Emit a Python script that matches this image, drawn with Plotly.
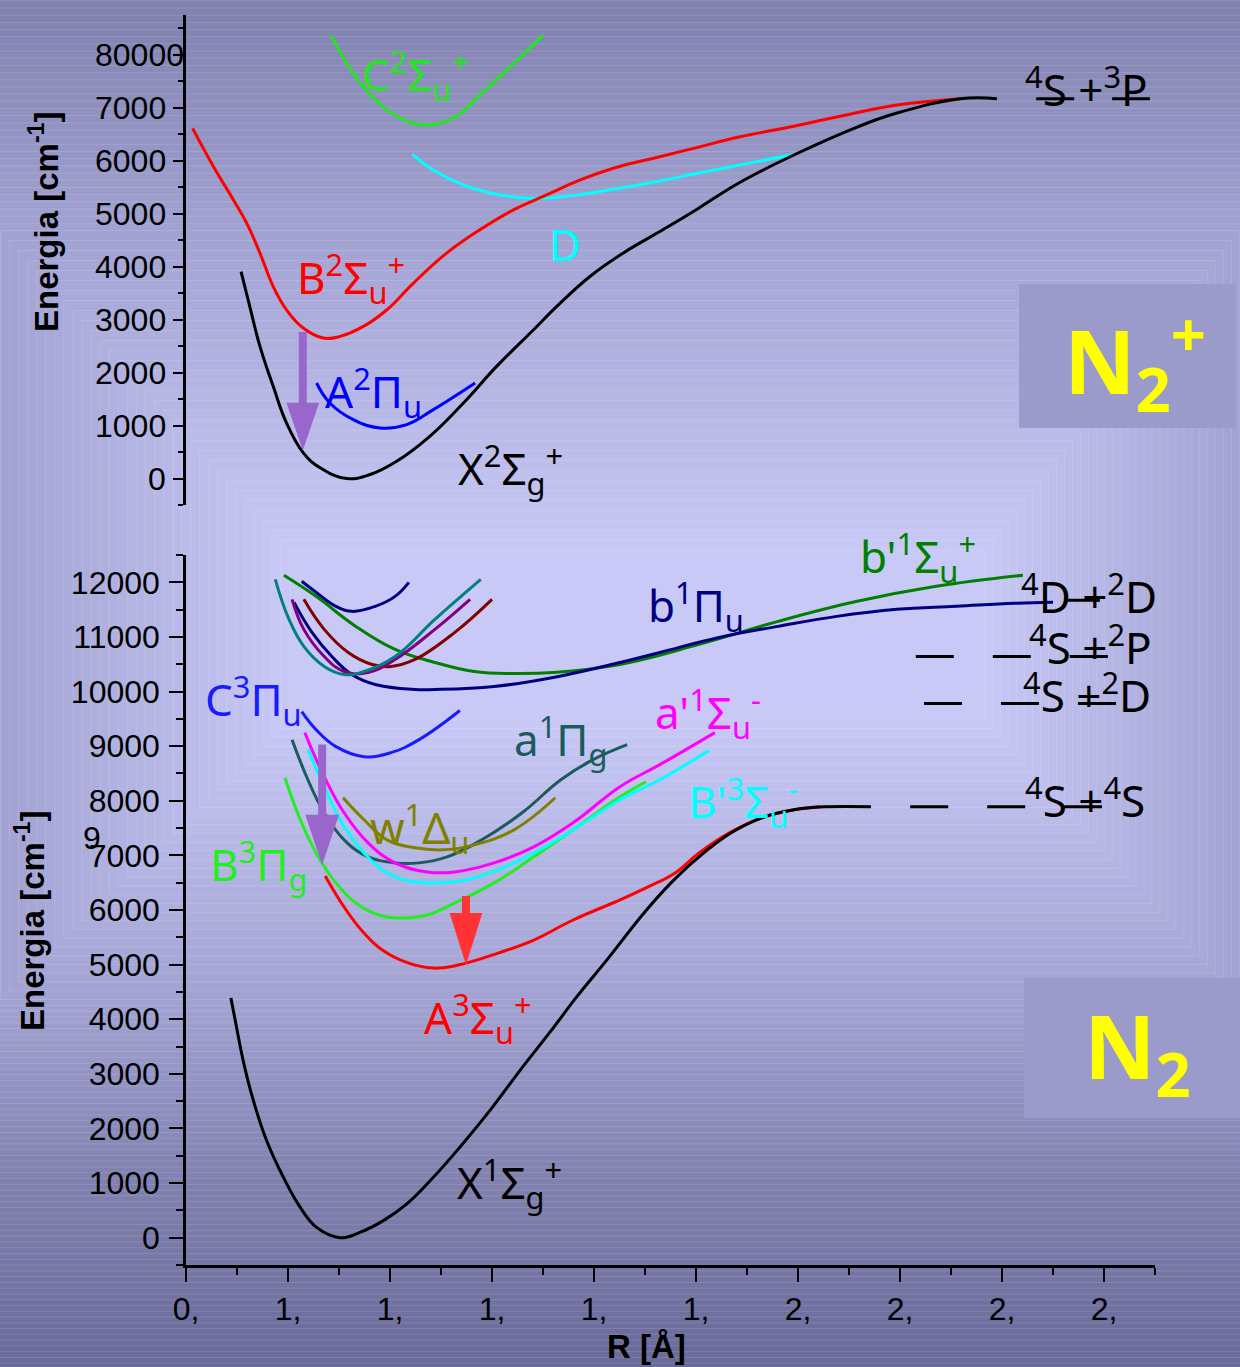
import plotly.graph_objects as go
import numpy as np

W, H = 1240, 1367

# ---------------- axes ticks ----------------
R_TICKS = [0.8, 1.0, 1.2, 1.4, 1.6, 1.8, 2.0, 2.2, 2.4, 2.6]
R_TICK_TEXT = ["0,", "1,", "1,", "1,", "1,", "1,", "2,", "2,", "2,", "2,"]
E_TICKS_N2 = list(range(0, 12001, 1000))
E_TICK_TEXT_N2 = [str(v) for v in E_TICKS_N2]
E_TICKS_N2P = list(range(0, 80001, 10000))
E_TICK_TEXT_N2P = ["0", "1000", "2000", "3000", "4000", "5000", "6000", "7000", "80000"]

# ---------------- N2+ (upper panel) ----------------
N2P_X_R = [0.908, 0.925, 0.945, 0.971, 0.997, 1.030, 1.063, 1.115, 1.161, 1.213, 1.278, 1.344,
           1.409, 1.475, 1.527, 1.592, 1.657, 1.729, 1.806, 1.884, 1.996, 2.116, 2.194, 2.318, 2.390]
N2P_X_E = [39076, 32479, 24939, 17399, 10499, 4844, 2017, 0, 754, 3261, 7974, 14269,
           21169, 27464, 32479, 38134, 42544, 46616, 51084, 55796, 61263, 66352, 68991, 71700, 71700]

N2P_B_R = [0.813, 0.854, 0.893, 0.919, 0.945, 0.971, 0.997, 1.030, 1.069, 1.102, 1.148, 1.194,
           1.246, 1.311, 1.376, 1.442, 1.507, 1.573, 1.638, 1.729, 1.806, 1.884, 1.984, 2.076,
           2.194, 2.318]
N2P_B_E = [66107, 58869, 52592, 48199, 42544, 36249, 31857, 28407, 26522, 26824, 28709, 31857,
           36889, 42544, 46937, 50707, 53534, 56362, 58567, 60754, 62582, 64467, 66352, 68237,
           70499, 71700]

N2P_D_R = [1.244, 1.285, 1.344, 1.409, 1.475, 1.540, 1.638, 1.729, 1.806, 1.996]
N2P_D_E = [61206, 58247, 55419, 53666, 52912, 53214, 54608, 56173, 57681, 61263]

N2P_C_R = [1.084, 1.133, 1.178, 1.210, 1.265, 1.327, 1.380, 1.443, 1.500]
N2P_C_E = [83694, 75777, 70876, 68614, 66729, 68237, 72761, 78416, 83694]

N2P_A_R = [1.056, 1.082, 1.128, 1.180, 1.233, 1.285, 1.367]
N2P_A_E = [18039, 14269, 11122, 9557, 10179, 13007, 18039]

N2P_LIMIT_R = [2.467, 2.690]
N2P_LIMIT_E = [71700, 71700]

# ---------------- N2 (lower panel) ----------------
N2_X_R = [0.888, 0.899, 0.912, 0.932, 0.958, 0.991, 1.024, 1.056, 1.102, 1.141, 1.187, 1.233,
          1.285, 1.337, 1.396, 1.455, 1.514, 1.566, 1.625, 1.698, 1.751, 1.806, 1.869, 1.929,
          1.992, 2.055, 2.143]
N2_X_E = [4391, 3859, 3248, 2514, 1780, 1106, 556, 189, 0, 97, 312, 618,
          1106, 1657, 2330, 3064, 3767, 4409, 5083, 5945, 6496, 6973, 7413, 7688,
          7835, 7890, 7890]

N2_A_R = [1.073, 1.110, 1.149, 1.194, 1.249, 1.296, 1.349, 1.412, 1.482, 1.559, 1.651, 1.706,
          1.759, 1.806, 1.869, 1.929, 1.992, 2.043]
N2_A_E = [6624, 6055, 5578, 5211, 4991, 4936, 5028, 5211, 5450, 5817, 6184, 6422,
          6679, 7046, 7431, 7688, 7835, 7890]

N2_B_R = [0.994, 1.024, 1.055, 1.094, 1.133, 1.178, 1.218, 1.273, 1.327, 1.404, 1.482, 1.559, 1.651, 1.702]
N2_B_E = [8422, 7652, 7046, 6496, 6129, 5908, 5853, 5908, 6129, 6496, 6973, 7468, 8074, 8349]

N2_Bp_R = [1.039, 1.071, 1.110, 1.149, 1.194, 1.249, 1.288, 1.349, 1.412, 1.482, 1.559, 1.651, 1.729, 1.825]
N2_Bp_E = [8936, 8257, 7523, 7046, 6679, 6514, 6496, 6551, 6734, 7046, 7468, 8019, 8385, 8918]

N2_ap_R = [1.033, 1.071, 1.110, 1.157, 1.210, 1.273, 1.327, 1.404, 1.482, 1.559, 1.651, 1.729, 1.837]
N2_ap_E = [9248, 8441, 7780, 7230, 6863, 6697, 6697, 6863, 7156, 7596, 8257, 8661, 9248]

N2_a_R = [1.008, 1.039, 1.071, 1.110, 1.157, 1.210, 1.257, 1.312, 1.380, 1.459, 1.535, 1.598, 1.665]
N2_a_E = [9119, 8385, 7780, 7285, 6973, 6863, 6863, 6973, 7285, 7780, 8385, 8752, 9028]

N2_w_R = [1.108, 1.149, 1.194, 1.249, 1.304, 1.365, 1.443, 1.524]
N2_w_E = [8055, 7652, 7285, 7138, 7101, 7193, 7468, 8055]

N2_C_R = [1.027, 1.055, 1.094, 1.149, 1.202, 1.257, 1.337]
N2_C_E = [9633, 9303, 8991, 8808, 8881, 9119, 9652]

N2_navy_small_R = [1.027, 1.055, 1.094, 1.125, 1.171, 1.210, 1.237]
N2_navy_small_E = [12019, 11817, 11560, 11468, 11560, 11743, 12000]

N2_bp_R = [0.992, 1.055, 1.133, 1.210, 1.288, 1.365, 1.443, 1.520, 1.651, 1.806, 1.961, 2.116, 2.271, 2.441]
N2_bp_E = [12129, 11743, 11193, 10771, 10532, 10367, 10330, 10349, 10496, 10863, 11285, 11652, 11927, 12129]

N2_teal_R = [0.975, 1.002, 1.031, 1.071, 1.110, 1.149, 1.210, 1.288, 1.378]
N2_teal_E = [12055, 11321, 10826, 10459, 10312, 10367, 10642, 11321, 12055]

N2_purple_R = [1.008, 1.031, 1.071, 1.110, 1.157, 1.210, 1.288, 1.357]
N2_purple_E = [11688, 11138, 10642, 10367, 10349, 10587, 11138, 11688]

N2_maroon_R = [1.031, 1.071, 1.118, 1.165, 1.202, 1.249, 1.327, 1.400]
N2_maroon_E = [11688, 11138, 10716, 10496, 10459, 10587, 11083, 11688]

N2_b_R = [1.012, 1.047, 1.086, 1.125, 1.171, 1.249, 1.288, 1.404, 1.520, 1.651, 1.729, 1.845,
          1.961, 2.076, 2.194, 2.310, 2.425, 2.500]
N2_b_E = [11633, 11083, 10642, 10312, 10129, 10037, 10037, 10092, 10257, 10532, 10716, 10991,
          11193, 11376, 11505, 11560, 11615, 11633]

LIMIT_4S4S_R = [2.220, 2.596]; LIMIT_4S4S_E = [7890, 7890]
LIMIT_4S2D_R = [2.247, 2.624]; LIMIT_4S2D_E = [9780, 9780]
LIMIT_4S2P_R = [2.231, 2.608]; LIMIT_4S2P_E = [10642, 10642]
LIMIT_4D2D_R = [2.527, 2.592]; LIMIT_4D2D_E = [11670, 11670]

fig = go.Figure()

def curve(r, e, color, top=False, dash=None, width=3):
    fig.add_trace(go.Scatter(
        x=r, y=e, mode="lines",
        line=dict(color=color, width=width, shape="spline", smoothing=1.2, dash=dash),
        xaxis="x2" if top else "x", yaxis="y2" if top else "y",
        showlegend=False, hoverinfo="skip"))

# upper panel
curve(N2P_C_R, N2P_C_E, "#22e622", True)
curve(N2P_D_R, N2P_D_E, "#00ffff", True)
curve(N2P_B_R, N2P_B_E, "#ff0000", True)
curve(N2P_A_R, N2P_A_E, "#0000ff", True)
curve(N2P_X_R, N2P_X_E, "#000000", True)
curve(N2P_LIMIT_R, N2P_LIMIT_E, "#000000", True, dash="38px,38px")

# lower panel
curve(N2_bp_R, N2_bp_E, "#008000")
curve(N2_b_R, N2_b_E, "#000080")
curve(N2_navy_small_R, N2_navy_small_E, "#000080")
curve(N2_maroon_R, N2_maroon_E, "#800000")
curve(N2_purple_R, N2_purple_E, "#800080")
curve(N2_teal_R, N2_teal_E, "#008080")
curve(N2_C_R, N2_C_E, "#1a1aff")
curve(N2_a_R, N2_a_E, "#1a5c5c")
curve(N2_w_R, N2_w_E, "#808000")
curve(N2_B_R, N2_B_E, "#22ee22")
curve(N2_Bp_R, N2_Bp_E, "#00ffff")
curve(N2_ap_R, N2_ap_E, "#ff00ff")
curve(N2_A_R, N2_A_E, "#ff0000")
curve(N2_X_R, N2_X_E, "#000000")
for lr, le in [(LIMIT_4S4S_R, LIMIT_4S4S_E), (LIMIT_4S2D_R, LIMIT_4S2D_E),
               (LIMIT_4S2P_R, LIMIT_4S2P_E), (LIMIT_4D2D_R, LIMIT_4D2D_E)]:
    curve(lr, le, "#000000", dash="38px,39px")

# ---------------- background gradient (decoration) ----------------
def col_at(t):
    stops = [(0.0, (201, 201, 247)), (1.0, (163, 163, 211)), (2.0, (129, 129, 176)),
             (3.0, (106, 106, 154)), (3.4, (98, 98, 146))]
    for (t0, c0), (t1, c1) in zip(stops[:-1], stops[1:]):
        if t <= t1:
            f = (t - t0) / (t1 - t0)
            return "rgb(%d,%d,%d)" % tuple(round(a + (b - a) * f) for a, b in zip(c0, c1))
    return "rgb(%d,%d,%d)" % stops[-1][1]

shapes = []
for t in np.linspace(3.4, 0, 110):
    left = 290 - 290 * t
    right = 985 + 255 * t
    top = 550 - 320 * t if t <= 1 else 230 - 230 * (t - 1)
    bottom = 720 + 280 * t if t <= 1 else 1000 + 185 * (t - 1)
    shapes.append(dict(type="rect", xref="paper", yref="paper", layer="below",
                       x0=left / W, x1=right / W, y0=1 - bottom / H, y1=1 - top / H,
                       fillcolor=col_at(t), line=dict(color="rgba(255,255,255,0.13)", width=1)))

# molecule boxes
shapes.append(dict(type="rect", xref="paper", yref="paper", layer="below",
                   x0=1019 / W, x1=1236 / W, y0=1 - 428 / H, y1=1 - 284 / H,
                   fillcolor="#9a9acb", line=dict(width=0)))
shapes.append(dict(type="rect", xref="paper", yref="paper", layer="below",
                   x0=1024 / W, x1=1240 / W, y0=1 - 1118 / H, y1=1 - 978 / H,
                   fillcolor="#9a9acb", line=dict(width=0)))

# arrows (shaft + head), data coordinates
def arrow(xc, e_top, e_base, e_tip, color, xr, yr, shaft=0.0078, head=0.032):
    path = (f"M {xc-shaft},{e_top} L {xc+shaft},{e_top} L {xc+shaft},{e_base} "
            f"L {xc+head},{e_base} L {xc},{e_tip} L {xc-head},{e_base} L {xc-shaft},{e_base} Z")
    shapes.append(dict(type="path", xref=xr, yref=yr, path=path, fillcolor=color,
                       line=dict(width=0), layer="above"))

arrow(1.029, 27680, 14311, 5272, "#9966cc", "x2", "y2")
arrow(1.067, 9028, 7743, 6826, "#9966cc", "x", "y", head=0.033)
arrow(1.349, 6257, 5945, 4991, "#ff3333", "x", "y")

# ---------------- labels ----------------
LBL_FONT = "Noto Sans"
labels = [
    # text, R_left, E_center, color, top-panel?
    ("C<sup>2</sup>Σ<sub>u</sub><sup>+</sup>", 1.141, 76262, "#22e622", True),
    ("B<sup>2</sup>Σ<sub>u</sub><sup>+</sup>", 1.014, 37848, "#ff0000", True),
    ("A<sup>2</sup>Π<sub>u</sub>", 1.069, 16382, "#0000ff", True),
    ("X<sup>2</sup>Σ<sub>g</sub><sup>+</sup>", 1.329, 1883, "#000000", True),
    ("D", 1.508, 44250, "#00ffff", True),
    ("<sup>4</sup>S +<sup>3</sup>P", 2.441, 73814, "#000000", True),
    ("b<sup>1</sup>Π<sub>u</sub>", 1.702, 11560, "#000080", False),
    ("C<sup>3</sup>Π<sub>u</sub>", 0.833, 9853, "#1a1aff", False),
    ("a<sup>1</sup>Π<sub>g</sub>", 1.439, 9119, "#1a5c5c", False),
    ("w<sup>1</sup>Δ<sub>u</sub>", 1.157, 7505, "#808000", False),
    ("B<sup>3</sup>Π<sub>g</sub>", 0.843, 6826, "#22ee22", False),
    ("a'<sup>1</sup>Σ<sub>u</sub><sup>-</sup>", 1.716, 9615, "#ff00ff", False),
    ("B'<sup>3</sup>Σ<sub>u</sub><sup>-</sup>", 1.780, 7982, "#00ffff", False),
    ("A<sup>3</sup>Σ<sub>u</sub><sup>+</sup>", 1.263, 4018, "#ff0000", False),
    ("X<sup>1</sup>Σ<sub>g</sub><sup>+</sup>", 1.327, 1009, "#000000", False),
    ("<sup>4</sup>D +<sup>2</sup>D", 2.433, 11780, "#000000", False),
    ("<sup>4</sup>S +<sup>2</sup>P", 2.449, 10844, "#000000", False),
    ("<sup>4</sup>S +<sup>2</sup>D", 2.437, 9982, "#000000", False),
    ("<sup>4</sup>S +<sup>4</sup>S", 2.441, 8055, "#000000", False),
]
annotations = []
for text, r, e, c, top in labels:
    annotations.append(dict(text=text, x=r, y=e, xref="x2" if top else "x", yref="y2" if top else "y",
                            xanchor="left", yanchor="middle", showarrow=False,
                            font=dict(family=LBL_FONT, size=44, color=c)))
# label sitting just above the lower axis range -> paper coordinates
annotations.append(dict(text="b'<sup>1</sup>Σ<sub>u</sub><sup>+</sup>", x=858 / W, y=1 - 557 / H,
                        xref="paper", yref="paper", xanchor="left", yanchor="middle",
                        showarrow=False, font=dict(family=LBL_FONT, size=44, color="#008000")))

TICK_FONT = dict(family="Liberation Sans, Arial", size=32, color="black")
# top panel tick labels (right aligned; the last one overhangs the axis as in the original)
for v, t in zip(E_TICKS_N2P, E_TICK_TEXT_N2P):
    annotations.append(dict(text=t, x=(186 if t == "80000" else 168) / W, y=v, xref="paper",
                            yref="y2", xanchor="right", yanchor="middle", showarrow=False,
                            font=TICK_FONT))

annotations.append(dict(text="9", x=92 / W, y=1 - 838 / H, xref="paper", yref="paper",
                        xanchor="center", yanchor="middle", showarrow=False, font=TICK_FONT))

TITLE_FONT = dict(family="Liberation Sans, Arial", size=33, color="black", weight="bold")
annotations.append(dict(text="Energia [cm<sup>-1</sup>]", x=44 / W, y=1 - 222 / H, xref="paper",
                        yref="paper", xanchor="center", yanchor="middle", textangle=-90,
                        showarrow=False, font=TITLE_FONT))
annotations.append(dict(text="Energia [cm<sup>-1</sup>]", x=30 / W, y=1 - 921 / H, xref="paper",
                        yref="paper", xanchor="center", yanchor="middle", textangle=-90,
                        showarrow=False, font=TITLE_FONT))
annotations.append(dict(text="R [Å]", x=646 / W, y=1 - 1346 / H, xref="paper", yref="paper",
                        xanchor="center", yanchor="middle", showarrow=False, font=TITLE_FONT))

annotations.append(dict(text="N<sub>2</sub><sup>+</sup>", x=1062 / W, y=1 - 360 / H, xref="paper",
                        yref="paper", xanchor="left", yanchor="middle", showarrow=False,
                        font=dict(family=LBL_FONT, size=88, color="#ffff00", weight="bold")))
annotations.append(dict(text="N<sub>2</sub>", x=1082 / W, y=1 - 1050 / H, xref="paper",
                        yref="paper", xanchor="left", yanchor="middle", showarrow=False,
                        font=dict(family=LBL_FONT, size=88, color="#ffff00", weight="bold")))

XDOM = [186 / W, 1155 / W]
fig.update_layout(
    width=W, height=H, autosize=False,
    margin=dict(l=0, r=0, t=0, b=0, pad=0),
    paper_bgcolor="#a3a3d3", plot_bgcolor="rgba(0,0,0,0)",
    showlegend=False,
    shapes=shapes, annotations=annotations,
    xaxis=dict(domain=XDOM, range=[0.8, 2.7], anchor="y", automargin=False,
               tickmode="array", tickvals=R_TICKS, ticktext=R_TICK_TEXT,
               ticks="outside", ticklen=14, tickwidth=2, tickcolor="black",
               minor=dict(dtick=0.1, tick0=0.8, ticks="outside", ticklen=7, tickwidth=2, tickcolor="black"),
               showline=True, linewidth=2.5, linecolor="black", showgrid=False, zeroline=False,
               tickfont=TICK_FONT),
    yaxis=dict(domain=[1 - 1265 / H, 1 - 555 / H], range=[-500, 12500], anchor="x", automargin=False,
               tickmode="array", tickvals=E_TICKS_N2, ticktext=E_TICK_TEXT_N2,
               ticks="outside", ticklen=14, tickwidth=2, tickcolor="black", ticklabelstandoff=3,
               minor=dict(dtick=500, tick0=0, ticks="outside", ticklen=7, tickwidth=2, tickcolor="black"),
               showline=True, linewidth=2.5, linecolor="black", showgrid=False, zeroline=False,
               tickfont=TICK_FONT),
    xaxis2=dict(domain=XDOM, range=[0.8, 2.7], anchor="y2", visible=False),
    yaxis2=dict(domain=[1 - 505 / H, 1 - 15 / H], range=[-5000, 87500], anchor="x2", automargin=False,
                tickmode="array", tickvals=E_TICKS_N2P, showticklabels=False,
                ticks="outside", ticklen=10, tickwidth=2, tickcolor="black",
                minor=dict(dtick=5000, tick0=0, ticks="outside", ticklen=5, tickwidth=2, tickcolor="black"),
                showline=True, linewidth=2.5, linecolor="black", showgrid=False, zeroline=False),
)

fig.write_html("out.html", config={"responsive": False, "displayModeBar": False},
               post_script="document.body.style.margin='0';document.body.style.overflow='hidden';")
